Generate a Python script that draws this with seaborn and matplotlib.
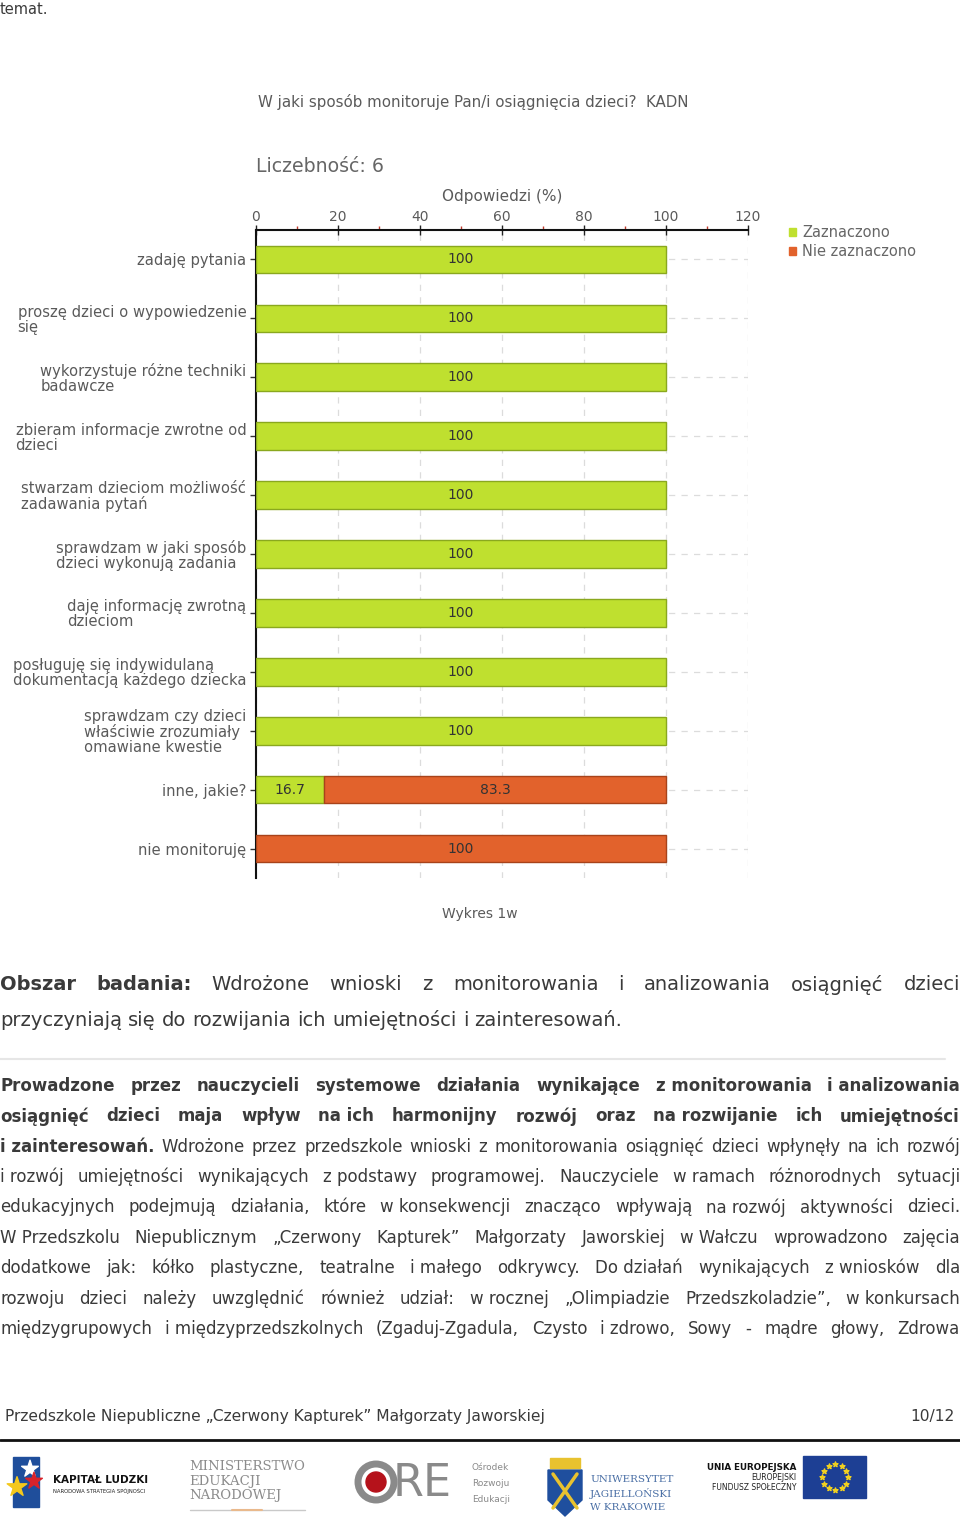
import numpy as np
import pandas as pd
import matplotlib
matplotlib.use('Agg')
import matplotlib.pyplot as plt
import seaborn as sns
from matplotlib.patches import Rectangle, Circle, Polygon
from matplotlib.lines import Line2D

# ── data ─────────────────────────────────────────────
labels = [
    "zadaję pytania",
    "proszę dzieci o wypowiedzenie\nsię",
    "wykorzystuje różne techniki\nbadawcze",
    "zbieram informacje zwrotne od\ndzieci",
    "stwarzam dzieciom możliwość\nzadawania pytań",
    "sprawdzam w jaki sposób\ndzieci wykonują zadania",
    "daję informację zwrotną\ndzieciom",
    "posługuję się indywidulaną\ndokumentacją każdego dziecka",
    "sprawdzam czy dzieci\nwłaściwie zrozumiały\nomawiane kwestie",
    "inne, jakie?",
    "nie monitoruję",
]
zaznaczono = [100, 100, 100, 100, 100, 100, 100, 100, 100, 16.7, 0]
nie_zaznaczono = [0, 0, 0, 0, 0, 0, 0, 0, 0, 83.3, 100]
series_names = ["Zaznaczono", "Nie zaznaczono"]
x_ticks = [0, 20, 40, 60, 80, 100, 120]

chart_title = "W jaki sposób monitoruje Pan/i osiągnięcia dzieci?  KADN"
count_text = "Liczebność: 6"
x_label = "Odpowiedzi (%)"
caption = "Wykres 1w"

# body text: lines of (segment, bold); "~" keeps two words together
heading_lines = [
    [("Obszar badania:", True), ("Wdrożone wnioski z monitorowania i analizowania osiągnięć dzieci", False)],
    [("przyczyniają się do rozwijania ich umiejętności i zainteresowań.", False)],
]
para_lines = [
    [("Prowadzone przez nauczycieli systemowe działania wynikające z~monitorowania i~analizowania", True)],
    [("osiągnięć dzieci maja wpływ na~ich harmonijny rozwój oraz na~rozwijanie ich umiejętności", True)],
    [("i~zainteresowań.", True), ("Wdrożone przez przedszkole wnioski z monitorowania osiągnięć dzieci wpłynęły na ich rozwój", False)],
    [("i~rozwój umiejętności wynikających z~podstawy programowej. Nauczyciele w~ramach różnorodnych sytuacji", False)],
    [("edukacyjnych podejmują działania, które w~konsekwencji znacząco wpływają na~rozwój aktywności dzieci.", False)],
    [("W~Przedszkolu Niepublicznym „Czerwony Kapturek” Małgorzaty Jaworskiej w~Wałczu wprowadzono zajęcia", False)],
    [("dodatkowe jak: kółko plastyczne, teatralne i~małego odkrywcy. Do~działań wynikających z~wniosków dla", False)],
    [("rozwoju dzieci należy uwzględnić również udział: w~rocznej „Olimpiadzie Przedszkoladzie”, w~konkursach", False)],
    [("międzygrupowych i~międzyprzedszkolnych (Zgaduj-Zgadula, Czysto i~zdrowo, Sowy - mądre głowy, Zdrowa", False)],
]
footer_left = "Przedszkole Niepubliczne „Czerwony Kapturek” Małgorzaty Jaworskiej"
footer_right = "10/12"

GREEN, GREEN_EDGE = "#bfe02f", "#8aa81e"
ORANGE, ORANGE_EDGE = "#e2622c", "#a8431a"
TXT = "#3a3a3a"
CH_TXT = "#5a5a5a"

sns.set_theme(style="white")
plt.rcParams['font.family'] = ['DejaVu Sans']

W, H = 960, 1528
fig = plt.figure(figsize=(W / 100, H / 100), dpi=100)


def fx(x):
    return x / W


def fy(y):
    return 1 - y / H


# ── chart ────────────────────────────────────────────
df = pd.DataFrame({'label': labels, 'zazn': zaznaczono, 'nie': nie_zaznaczono})

ax = fig.add_axes([fx(256), fy(878), (748 - 256) / W, (878 - 230) / H])
sns.barplot(data=df[df.zazn > 0], x='zazn', y='label', order=labels, orient='h',
            color=GREEN, saturation=1, edgecolor=GREEN_EDGE, linewidth=1,
            width=0.47, errorbar=None, ax=ax, zorder=3)
ax.bar_label(ax.containers[0], fmt='{:g}', label_type='center', fontsize=10, color='#333')

idx = np.arange(len(labels))
mask = (df.nie > 0).values
orange = ax.barh(idx[mask], df.nie[mask], left=df.zazn[mask], height=0.47,
                 color=ORANGE, edgecolor=ORANGE_EDGE, linewidth=1, zorder=3)
ax.bar_label(orange, fmt='{:g}', label_type='center', fontsize=10, color='#333')

ax.set_xlim(0, 120)
ax.set_ylim(len(labels) - 0.5, -0.5)
ax.xaxis.tick_top()
ax.xaxis.set_label_position('top')
ax.set_xticks(x_ticks)
ax.set_xticks([t + 10 for t in x_ticks[:-1]], minor=True)
ax.set_xlabel(x_label, fontsize=11, color=CH_TXT, labelpad=6)
ax.set_ylabel('')
ax.tick_params(axis='x', which='major', direction='inout', length=7, width=1,
               color='#222', labelcolor=CH_TXT, labelsize=10, pad=1)
ax.tick_params(axis='x', which='minor', direction='out', length=3, width=1, color='#c0392b')
ax.tick_params(axis='y', direction='out', length=4, width=1, color='#333',
               labelcolor=CH_TXT, labelsize=10.6, pad=3, left=True)
for t in ax.get_yticklabels():
    t.set_multialignment('left')
    t.set_linespacing(1.0)

for s in ['right', 'bottom']:
    ax.spines[s].set_visible(False)
for s in ['top', 'left']:
    ax.spines[s].set_color('#111')
    ax.spines[s].set_linewidth(1.5)
ax.grid(True, which='major', color='#dcdcdc', linestyle=(0, (5, 5)), linewidth=0.9)
ax.set_axisbelow(True)

handles = [Rectangle((0, 0), 1, 1, color=GREEN), Rectangle((0, 0), 1, 1, color=ORANGE)]
fig.legend(handles, series_names, loc='upper left', bbox_to_anchor=(fx(789), fy(225)),
           frameon=False, fontsize=10.5, handlelength=0.5, handleheight=0.5,
           handletextpad=0.4, labelspacing=0.3, labelcolor='#666',
           borderaxespad=0, borderpad=0)

fig.text(fx(0), fy(9), "temat.", fontsize=10.5, va='center', color=TXT)
fig.text(fx(258), fy(102), chart_title, fontsize=10.8, va='center', color=CH_TXT)
fig.text(fx(256), fy(166), count_text, fontsize=13.6, va='center', color='#666')
fig.text(0.5, fy(914), caption, fontsize=10, ha='center', va='center', color=CH_TXT)

# ── justified body text ─────────────────────────────
renderer = fig.canvas.get_renderer()


def draw_line(segments, y, fs, justify=True, x0=0, x1=960):
    texts = []
    for seg, bold in segments:
        for word in seg.split(' '):
            texts.append(fig.text(0, fy(y), word.replace('~', ' '), fontsize=fs,
                                  fontweight='bold' if bold else 'normal',
                                  va='center', ha='left', color=TXT))
    widths = [t.get_window_extent(renderer).width for t in texts]
    if justify and len(texts) > 1:
        gap = (x1 - x0 - sum(widths)) / (len(texts) - 1)
    else:
        gap = 0.32 * fs * 100 / 72
    x = x0
    for t, w in zip(texts, widths):
        t.set_x(fx(x))
        x += w + gap


draw_line(heading_lines[0], 985, 14)
draw_line(heading_lines[1], 1020, 14, justify=False)
fig.add_artist(Line2D([0, fx(945)], [fy(1059), fy(1059)], color='#e6e6e6', lw=1.5))
for i, line in enumerate(para_lines):
    draw_line(line, 1086 + i * 30.36, 12)

fig.text(fx(5), fy(1417), footer_left, fontsize=11.2, va='center', color=TXT)
fig.text(fx(955), fy(1417), footer_right, fontsize=11.2, ha='right', va='center', color=TXT)
fig.add_artist(Line2D([0, 1], [fy(1440), fy(1440)], color='#111', lw=2))

# ── logos strip ─────────────────────────────────────
lax = fig.add_axes([0, 0, 1, (H - 1443) / H])
lax.set_xlim(0, W)
lax.set_ylim(H, 1443)
lax.axis('off')

# Kapitał Ludzki
lax.add_patch(Rectangle((13, 1457), 26, 50, color='#1f4e9b'))
lax.scatter([30, 17, 34], [1469, 1487, 1481], marker='*', s=[160, 220, 160],
            c=['white', '#f4c81c', '#d8232a'], zorder=3)
lax.text(53, 1480, "KAPITAŁ LUDZKI", fontsize=7.5, fontweight='bold', va='center', color='#111')
lax.text(53, 1491, "NARODOWA STRATEGIA SPÓJNOŚCI", fontsize=3.8, va='center', color='#222')

# MEN
for k, w in enumerate(["MINISTERSTWO", "EDUKACJI", "NARODOWEJ"]):
    lax.text(189, 1466 + k * 15, w, fontsize=9.5, family='DejaVu Serif', va='center', color='#8c8c8c')
lax.plot([190, 305], [1510, 1510], color='#c9c9c9', lw=1)
lax.plot([232, 262], [1510, 1510], color='#e9b98c', lw=1.5)

# ORE
lax.add_patch(Circle((376, 1482), 18, fill=False, lw=5, edgecolor='#8a8a8a'))
lax.add_patch(Circle((376, 1482), 10, color='#b5121b'))
lax.text(393, 1484, "RE", fontsize=32, va='center', color='#8a8a8a')
for k, w in enumerate(["Ośrodek", "Rozwoju", "Edukacji"]):
    lax.text(472, 1467 + k * 16, w, fontsize=6.5, va='center', color='#8a8a8a')

# Uniwersytet Jagielloński
lax.add_patch(Polygon([(548, 1470), (582, 1470), (582, 1500), (565, 1516), (548, 1500)],
                      closed=True, color='#1f4f9e'))
lax.add_patch(Rectangle((550, 1458), 30, 10, color='#e8c22f'))
lax.plot([553, 577], [1474, 1508], color='#e8c22f', lw=2.5)
lax.plot([577, 553], [1474, 1508], color='#e8c22f', lw=2.5)
for k, w in enumerate(["UNIWERSYTET", "JAGIELLOŃSKI", "W KRAKOWIE"]):
    lax.text(590, 1480 + k * 13.5, w, fontsize=7.5, family='DejaVu Serif', va='center', color='#4a6fa5')

# UE / EFS
lax.text(796, 1467, "UNIA EUROPEJSKA", fontsize=6.3, fontweight='bold', ha='right', va='center', color='#111')
lax.text(796, 1477, "EUROPEJSKI", fontsize=5.5, ha='right', va='center', color='#222')
lax.text(796, 1487, "FUNDUSZ SPOŁECZNY", fontsize=5.5, ha='right', va='center', color='#222')
lax.add_patch(Rectangle((803, 1456), 63, 42, color='#1d3f94'))
ang = np.linspace(0, 2 * np.pi, 13)[:-1]
lax.scatter(835 + 13 * np.cos(ang), 1477 + 13 * np.sin(ang), marker='*', s=14, c='#f0d020', zorder=3)

fig.savefig("out.png", dpi=100)
